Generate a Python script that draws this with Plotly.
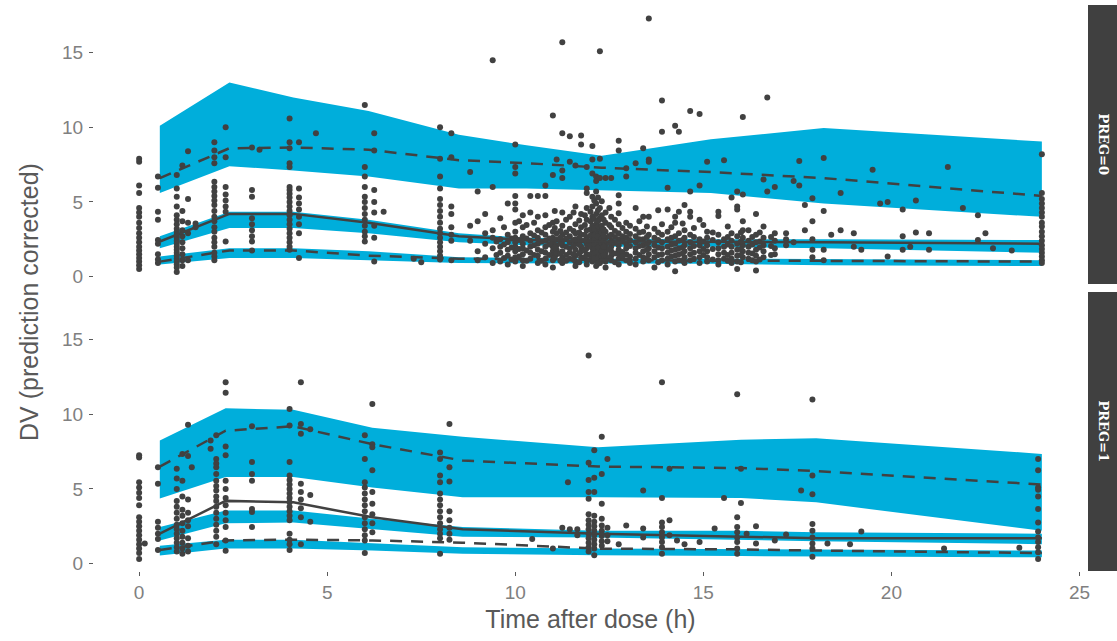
import plotly.graph_objects as go

# ---------------- PREG=0 : VPC summary ----------------
preg0_bin_time = [0.55, 2.4, 4.1, 6.1, 8.5, 10.3, 12.3, 15.2, 18.2, 24]
preg0_p95_ci_hi = [10.1, 13.0, 12.0, 11.1, 9.5, 8.8, 8.1, 9.2, 9.95, 9.05]
preg0_p95_ci_lo = [5.6, 7.4, 7.1, 6.7, 5.9, 5.9, 5.8, 5.6, 4.9, 4.0]
preg0_p50_ci_hi = [2.7, 4.35, 4.35, 3.8, 2.9, 2.6, 2.55, 2.5, 2.5, 2.45]
preg0_p50_ci_lo = [1.9, 3.25, 3.25, 2.9, 2.3, 2.1, 2.0, 2.0, 1.9, 1.6]
preg0_p05_ci_hi = [1.35, 1.9, 1.9, 1.7, 1.3, 1.25, 1.2, 1.2, 1.15, 1.1]
preg0_p05_ci_lo = [0.8, 1.25, 1.25, 1.1, 0.9, 0.9, 0.87, 0.85, 0.75, 0.7]
preg0_obs_p95 = [6.6, 8.6, 8.65, 8.5, 7.8, 7.6, 7.3, 7.0, 6.6, 5.4]
preg0_obs_p50 = [2.35, 4.2, 4.2, 3.6, 2.7, 2.45, 2.35, 2.35, 2.3, 2.2]
preg0_obs_p05 = [1.0, 1.75, 1.75, 1.4, 1.2, 1.15, 1.1, 1.05, 1.05, 1.0]

# ---------------- PREG=1 : VPC summary ----------------
preg1_bin_time = [0.55, 2.3, 4.1, 6.2, 8.6, 12.2, 16.0, 18.0, 24]
preg1_p95_ci_hi = [8.25, 10.4, 10.3, 9.1, 8.5, 7.8, 8.3, 8.4, 7.35]
preg1_p95_ci_lo = [4.36, 5.8, 5.8, 5.1, 4.45, 4.45, 4.4, 4.1, 2.2]
preg1_p50_ci_hi = [2.45, 3.55, 3.55, 3.0, 2.45, 2.2, 2.2, 2.1, 2.0]
preg1_p50_ci_lo = [1.55, 2.7, 2.75, 2.3, 1.8, 1.75, 1.6, 1.5, 1.3]
preg1_p05_ci_hi = [1.2, 1.6, 1.6, 1.35, 1.1, 1.0, 0.95, 0.9, 0.87]
preg1_p05_ci_lo = [0.54, 1.0, 1.0, 0.87, 0.65, 0.55, 0.5, 0.45, 0.42]
preg1_obs_p95 = [6.5, 8.9, 9.2, 8.0, 6.9, 6.5, 6.4, 6.2, 5.3]
preg1_obs_p50 = [2.0, 4.2, 4.1, 3.1, 2.3, 2.0, 1.8, 1.7, 1.7]
preg1_obs_p05 = [0.9, 1.55, 1.6, 1.55, 1.4, 1.0, 0.95, 0.87, 0.7]

# ---------------- observations (time, [pcDV ...]) ----------------
preg0_obs_early = [
    (0.0, [7.9, 7.7, 6.1, 5.6, 4.6, 4.3, 4.0, 3.6, 3.25, 2.9, 2.6, 2.3, 2.0, 1.75, 1.5, 1.25, 1.0, 0.75, 0.5]),
    (0.5, [6.7, 5.95, 4.35, 3.8, 2.45, 2.2, 1.5, 1.15, 0.9]),
    (1.0, [6.8, 5.9, 5.35, 4.7, 4.1, 3.8, 3.5, 3.2, 3.0, 2.8, 2.6, 2.4, 2.2, 2.0, 1.8, 1.6, 1.4, 1.2, 1.0, 0.8, 0.6, 0.3]),
    (1.15, [7.45, 4.4, 3.7, 3.1, 2.7, 2.3, 1.9, 1.5, 1.1, 0.7]),
    (1.3, [8.4, 5.2, 3.6, 2.9, 1.1]),
    (1.5, [3.55, 3.3]),
    (2.0, [9.0, 8.45, 8.0, 7.6, 6.35, 6.0, 5.7, 5.4, 5.1, 4.8, 4.4, 4.0, 3.7, 3.3, 3.0, 2.6, 2.3, 2.0, 1.6, 1.35, 1.1]),
    (2.3, [10.0, 8.0, 6.0, 5.5, 5.1, 4.7, 4.35, 2.35]),
    (3.0, [8.65, 5.8, 5.35, 3.9, 3.5, 3.1, 2.7, 2.35, 1.75]),
    (3.2, [8.5]),
    (4.0, [10.6, 9.0, 8.6, 7.6, 7.35, 6.0, 5.8, 5.55, 5.3, 5.0, 4.7, 4.4, 4.1, 3.8, 3.5, 3.2, 2.9, 2.6, 2.3, 2.0, 1.8]),
    (4.25, [9.0, 5.9, 5.3, 4.9, 4.5, 4.0, 3.5, 2.9, 1.25]),
    (4.7, [9.6]),
    (6.0, [11.5, 7.35, 6.7, 6.0, 5.35, 5.0, 4.6, 4.2, 3.8, 3.4, 3.0, 2.7, 2.35]),
    (6.25, [9.6, 8.45, 5.8, 5.0, 4.3, 3.4, 2.6, 1.0]),
    (6.5, [4.35]),
    (7.3, [1.2]),
    (7.5, [0.95]),
    (8.0, [10.0, 7.9, 6.7, 5.9, 5.2, 4.8, 4.4, 4.0, 3.6, 3.2, 2.9, 2.6, 2.3, 2.0, 1.7, 1.4, 1.15]),
    (8.3, [9.6, 8.0, 4.7, 4.2, 3.3, 2.8, 2.4, 1.1]),
    (8.8, [7.0, 3.4, 2.4]),
    (9.0, [5.7, 3.7, 1.7, 1.1]),
]
preg0_obs_mid = [
    (9.2, [4.2, 2.9, 2.2, 1.3]),
    (9.4, [14.5, 6.0, 3.1, 2.6, 1.9, 0.9]),
    (9.6, [3.9, 2.5, 2.0, 1.6, 1.0]),
    (9.8, [4.9, 2.8, 2.3, 1.8, 1.4, 0.8]),
    (10.0, [8.85, 7.35, 6.9, 5.4, 4.9, 4.5, 3.6, 3.0, 2.6, 2.3, 2.0, 1.7, 1.3, 1.0]),
    (10.2, [4.1, 3.3, 2.7, 2.2, 1.9, 1.5, 1.1, 0.7]),
    (10.4, [5.4, 4.3, 2.9, 2.4, 2.0, 1.6, 1.2]),
    (10.6, [5.4, 4.0, 3.1, 2.6, 2.2, 1.8, 1.4, 0.9]),
    (10.8, [6.1, 5.4, 4.1, 3.3, 2.8, 2.4, 2.0, 1.6, 1.2, 0.8]),
    (11.0, [10.8, 6.8, 3.6, 3.0, 2.6, 2.3, 2.0, 1.7, 1.4, 1.1, 0.6]),
    (11.1, [7.85, 3.7, 2.9, 2.5, 2.1, 1.8, 1.5]),
    (11.25, [15.7, 9.6, 7.1, 6.6, 4.3, 3.4, 2.8, 2.4, 2.1, 1.7, 1.3, 0.9]),
    (11.45, [9.4, 7.7, 4.0, 3.2, 2.7, 2.3, 1.9, 1.6, 1.2]),
    (11.6, [7.45, 4.7, 3.5, 2.9, 2.5, 2.2, 1.8, 1.4, 1.0, 0.7]),
    (11.75, [9.45, 8.85, 4.2, 3.3, 2.8, 2.4, 2.0, 1.7, 1.3]),
    (11.9, [7.35, 5.9, 5.6, 4.6, 3.8, 3.1, 2.6, 2.2, 1.9, 1.5, 1.1, 0.8]),
    (12.05, [8.75, 7.85, 6.9, 5.35, 4.7, 4.0, 3.4, 2.9, 2.5, 2.2, 1.9, 1.6, 1.3, 1.0]),
    (12.15, [6.7, 6.4, 5.7, 4.9, 4.2, 3.5, 3.0, 2.6, 2.3, 2.0, 1.7, 1.4, 1.1, 0.7]),
    (12.25, [15.1, 7.9, 6.6, 4.6, 3.9, 3.2, 2.8, 2.4, 2.1, 1.8, 1.5, 1.2, 0.9]),
    (12.4, [6.6, 4.3, 3.6, 3.0, 2.6, 2.2, 1.9, 1.6, 1.3, 1.0, 0.6]),
    (12.55, [6.6, 4.0, 3.3, 2.8, 2.4, 2.0, 1.7, 1.4, 1.1]),
    (12.75, [9.1, 8.45, 5.45, 4.9, 4.25, 3.5, 2.9, 2.5, 2.1, 1.8, 1.5, 1.2, 0.8]),
    (12.95, [7.25, 6.7, 3.6, 3.0, 2.6, 2.2, 1.9, 1.5, 1.1]),
    (13.2, [7.6, 4.6, 3.2, 2.7, 2.3, 1.9, 1.6, 1.2, 0.8]),
    (13.4, [8.6, 4.0, 3.0, 2.5, 2.1, 1.7, 1.3, 1.0]),
    (13.55, [17.3, 7.85, 7.7, 4.0, 2.8, 2.3, 1.9, 1.5, 1.1]),
    (13.7, [3.2, 2.6, 2.1, 1.7, 1.3, 0.6]),
    (13.9, [11.8, 9.7, 3.5, 2.8, 2.3, 1.9, 1.5, 1.1]),
    (14.05, [5.95, 4.5, 3.0, 2.5, 2.0, 1.6, 1.2, 0.8]),
    (14.25, [10.1, 4.0, 3.6, 2.7, 2.2, 1.8, 1.4, 1.0, 0.35]),
    (14.35, [9.7, 4.35, 2.9, 2.4, 1.9, 1.5, 1.1]),
    (14.5, [4.8, 3.1, 2.6, 2.1, 1.7, 1.3, 0.9]),
    (14.65, [11.1, 5.7, 4.35, 4.0, 2.8, 2.3, 1.9, 1.5, 1.1]),
    (14.9, [10.9, 6.1, 3.8, 2.5, 2.1, 1.7, 1.3, 0.9]),
    (15.1, [7.7, 3.0, 2.6, 2.1, 1.7, 1.3, 1.0]),
    (15.4, [4.35, 4.05, 2.8, 2.3, 1.9, 1.5, 1.1, 0.8]),
    (15.55, [7.8, 2.5, 2.0, 1.6, 1.2]),
    (15.75, [5.3, 2.9, 2.4, 2.0, 1.6, 1.2, 0.9]),
    (15.9, [5.7, 4.7, 4.5, 2.7, 2.2, 1.8, 1.4, 1.0, 0.5]),
    (16.05, [10.7, 5.5, 3.7, 3.1, 2.6, 2.1, 1.7, 1.3]),
    (16.2, [3.1, 2.4, 2.0, 1.6, 1.2]),
    (16.4, [4.2, 2.8, 2.3, 1.8, 1.4, 1.0, 0.4]),
    (16.6, [6.5, 3.35, 2.6, 2.1, 1.7, 1.3]),
    (16.7, [12.0, 5.7]),
    (16.9, [6.0, 2.9, 2.4, 1.9, 1.5]),
]
preg0_obs_dense = [
    (9.5, [2.35, 1.45]),
    (9.7, [3.3, 2.15, 1.25]),
    (9.9, [2.55, 1.95, 1.15]),
    (10.1, [3.7, 2.45, 1.85, 1.35]),
    (10.3, [3.45, 2.55, 1.75, 1.05]),
    (10.5, [3.6, 2.75, 2.1, 1.45]),
    (10.7, [2.95, 2.35, 1.7, 1.05]),
    (10.9, [3.45, 2.55, 2.15, 1.45]),
    (11.05, [4.4, 3.25, 2.45, 1.95, 1.25]),
    (11.2, [3.05, 2.6, 2.25, 1.55, 1.05]),
    (11.35, [3.8, 2.95, 2.55, 2.0, 1.45, 1.05]),
    (11.55, [4.3, 3.05, 2.45, 2.05, 1.5, 1.15]),
    (11.7, [3.75, 2.95, 2.6, 2.15, 1.55, 0.95]),
    (11.85, [4.1, 3.45, 2.8, 2.4, 1.75, 1.3]),
    (12.0, [4.35, 3.7, 3.15, 2.75, 2.35, 2.05, 1.45, 1.15]),
    (12.1, [5.1, 3.85, 3.2, 2.75, 2.45, 2.15, 1.85, 1.55, 1.2]),
    (12.2, [5.3, 4.45, 3.7, 3.35, 2.7, 2.25, 1.95, 1.65, 1.25, 0.85]),
    (12.3, [5.05, 4.1, 3.4, 2.95, 2.55, 2.25, 1.7, 1.35, 1.05]),
    (12.35, [3.8, 3.15, 2.75, 2.35, 2.0, 1.45]),
    (12.5, [4.6, 3.45, 2.7, 2.25, 1.85, 1.25]),
    (12.65, [3.8, 3.05, 2.65, 2.25, 1.55, 0.95]),
    (12.85, [3.25, 2.7, 2.35, 1.65, 1.35]),
    (13.05, [3.4, 2.85, 2.45, 2.05, 1.35, 0.9]),
    (13.3, [3.7, 2.95, 2.5, 2.05, 1.45]),
    (13.5, [3.35, 2.65, 2.2, 1.8, 1.2]),
    (13.8, [4.45, 2.95, 2.45, 1.95, 1.45, 0.95]),
    (14.15, [3.3, 2.6, 2.15, 1.75, 1.35]),
    (14.45, [3.55, 2.45, 1.95, 1.55, 1.05]),
    (14.75, [3.25, 2.65, 2.05, 1.6, 1.2]),
    (15.0, [3.45, 2.35, 1.85, 1.45]),
    (15.25, [2.95, 2.45, 1.85, 1.15]),
    (15.65, [3.35, 2.65, 2.15, 1.45, 1.05]),
    (16.0, [2.95, 2.35, 1.85, 1.45, 0.95]),
    (16.3, [2.65, 2.15, 1.55, 1.1]),
    (16.5, [2.95, 2.35, 1.95, 1.15]),
    (16.8, [2.65, 2.05, 1.45]),
]
preg0_obs_late = [
    (17.2, [2.9, 2.5, 2.1]),
    (17.4, [6.4, 2.3]),
    (17.55, [7.75, 6.1]),
    (17.7, [4.8, 3.1]),
    (17.9, [5.25, 3.7, 2.5, 1.8, 1.3]),
    (18.2, [7.95, 4.4, 1.8, 1.1]),
    (18.4, [2.8]),
    (18.65, [5.6, 3.1]),
    (19.0, [2.9, 2.0]),
    (19.2, [1.8]),
    (19.5, [7.15]),
    (19.7, [4.9]),
    (19.9, [5.0, 1.35]),
    (20.3, [4.5, 2.7, 1.8]),
    (20.5, [2.0]),
    (20.65, [5.1, 2.95]),
    (21.0, [2.9, 1.8]),
    (21.5, [7.35]),
    (21.9, [4.6]),
    (22.3, [4.1, 2.45]),
    (22.5, [2.9]),
    (22.7, [1.9]),
    (23.2, [1.75]),
    (24.0, [8.2, 5.6, 5.2, 4.9, 4.6, 4.3, 4.0, 3.6, 3.35, 3.0, 2.7, 2.4, 2.1, 1.85, 1.6, 1.35, 1.1, 0.9]),
]

preg1_obs_early = [
    (0.0, [7.25, 7.1, 5.45, 5.1, 4.75, 4.4, 3.9, 3.1, 2.8, 2.5, 2.2, 1.9, 1.6, 1.3, 1.0, 0.7, 0.3]),
    (0.15, [1.35]),
    (0.5, [6.45, 5.35, 2.8, 2.4, 2.0, 1.65, 0.9]),
    (1.0, [6.35, 5.7, 5.0, 4.2, 3.8, 3.4, 3.0, 2.6, 2.3, 2.0, 1.7, 1.4, 1.1, 0.8]),
    (1.15, [7.35, 5.55, 4.5, 3.6, 3.2, 2.7, 2.2, 1.8, 1.4, 1.0, 0.65]),
    (1.3, [9.3, 7.2, 4.3, 3.4, 2.9, 2.5, 1.7, 1.2, 0.8]),
    (1.4, [6.45]),
    (1.9, [8.25, 7.7]),
    (2.05, [8.6, 7.0, 6.7, 6.45, 6.0, 5.55, 5.2, 4.9, 4.5, 4.2, 3.8, 3.4, 3.0, 2.6, 2.2, 1.8, 1.3]),
    (2.3, [12.15, 11.45, 7.85, 7.25, 5.55, 5.0, 4.4, 3.9, 3.4, 2.9, 2.45, 1.55, 0.85]),
    (3.0, [9.2, 6.8, 6.0, 5.55, 3.65, 3.45, 2.45]),
    (4.0, [10.35, 9.25, 6.8, 5.9, 5.6, 5.3, 5.0, 4.7, 4.4, 4.1, 3.8, 3.5, 3.2, 2.9, 2.0, 1.6, 1.3, 0.9]),
    (4.3, [12.15, 9.35, 8.7, 5.35, 4.8, 4.3, 3.7, 3.1, 1.3]),
    (4.55, [9.0, 4.6, 2.8]),
    (6.0, [8.6, 7.0, 5.45, 5.1, 4.7, 4.3, 3.9, 3.5, 3.1, 2.7, 2.3, 1.9, 1.55, 0.7]),
    (6.2, [10.7, 8.0, 7.8, 6.25, 4.8, 4.0, 3.3, 2.7, 2.1]),
    (8.0, [7.45, 7.0, 5.9, 5.45, 4.7, 4.3, 3.9, 3.5, 3.1, 2.7, 2.3, 2.0, 1.7, 0.65]),
    (8.25, [9.35, 6.45, 5.5, 3.5, 2.9, 2.4, 2.0, 1.6]),
]
preg1_obs_mid = [
    (10.45, [1.65]),
    (11.0, [1.0]),
    (11.25, [2.4]),
    (11.4, [5.45]),
    (11.45, [2.3]),
    (11.65, [2.3, 1.9]),
    (11.95, [13.95, 6.75, 5.6, 4.8, 4.35, 3.3, 2.9, 2.6, 2.3, 2.0, 1.7, 1.4, 1.1, 0.8]),
    (12.1, [7.6, 5.75, 4.8, 3.2, 2.8, 2.5, 2.2, 1.9, 1.6, 1.3, 1.0, 0.55]),
    (12.3, [8.5, 6.0, 4.0, 3.0, 2.55, 2.2, 1.85, 1.5, 1.2]),
    (12.45, [7.0, 2.4, 1.9, 1.5]),
    (12.75, [1.3]),
    (12.95, [2.55]),
    (13.4, [4.9, 2.35, 1.75]),
    (13.9, [12.15, 4.4, 2.75, 2.45, 2.1, 1.75, 1.45, 1.1, 0.65]),
    (14.1, [6.35, 2.9, 1.9]),
    (14.3, [1.55]),
    (14.5, [1.3]),
    (14.9, [1.45]),
    (15.3, [2.35]),
    (15.55, [4.4]),
    (15.9, [11.35, 3.1, 2.45, 2.1, 1.75, 1.45, 1.0, 0.65]),
    (16.0, [6.35, 4.05]),
    (16.15, [2.0]),
    (16.4, [2.5, 1.35]),
    (16.9, [1.55]),
]
preg1_obs_late = [
    (17.2, [1.95]),
    (17.6, [4.9]),
    (17.9, [11.0, 5.9, 4.65, 2.65, 2.2, 1.75, 1.35, 1.0, 0.45]),
    (18.3, [1.35]),
    (18.9, [1.3]),
    (19.2, [2.15]),
    (21.4, [1.0]),
    (23.4, [1.05]),
    (23.9, [7.0, 6.25, 5.1, 4.95, 4.5, 3.65, 2.75, 2.15, 1.75, 1.45, 1.1, 0.75, 0.3]),
]

strip_labels = ["PREG=0", "PREG=1"]
x_tick_vals = [0, 5, 10, 15, 20, 25]
y_tick_vals = [0, 5, 10, 15]

BAND = "#00AEDB"
INK = "#414141"
DASH = "12px,9px"

fig = go.Figure()


def flatten(groups):
    xs, ys = [], []
    for grp in groups:
        for t, vals in grp:
            for v in vals:
                xs.append(t)
                ys.append(v)
    return xs, ys


def add_panel(row_axis, t, bands, obs_lines, obs_groups):
    xa, ya = row_axis
    for hi, lo in bands:
        fig.add_trace(go.Scatter(
            x=list(t) + list(t)[::-1], y=list(hi) + list(lo)[::-1],
            fill="toself", fillcolor=BAND, line=dict(width=0), mode="lines",
            hoverinfo="skip", showlegend=False, xaxis=xa, yaxis=ya))
    xs, ys = flatten(obs_groups)
    fig.add_trace(go.Scatter(
        x=xs, y=ys, mode="markers",
        marker=dict(size=6, color=INK, line=dict(width=0)),
        showlegend=False, xaxis=xa, yaxis=ya))
    for vals, dash in obs_lines:
        fig.add_trace(go.Scatter(
            x=t, y=vals, mode="lines",
            line=dict(color=INK, width=2.5, dash=dash),
            showlegend=False, xaxis=xa, yaxis=ya))


add_panel(("x", "y"), preg0_bin_time,
          [(preg0_p95_ci_hi, preg0_p95_ci_lo), (preg0_p50_ci_hi, preg0_p50_ci_lo),
           (preg0_p05_ci_hi, preg0_p05_ci_lo)],
          [(preg0_obs_p95, DASH), (preg0_obs_p50, "solid"), (preg0_obs_p05, DASH)],
          [preg0_obs_early, preg0_obs_mid, preg0_obs_dense, preg0_obs_late])
add_panel(("x2", "y2"), preg1_bin_time,
          [(preg1_p95_ci_hi, preg1_p95_ci_lo), (preg1_p50_ci_hi, preg1_p50_ci_lo),
           (preg1_p05_ci_hi, preg1_p05_ci_lo)],
          [(preg1_obs_p95, DASH), (preg1_obs_p50, "solid"), (preg1_obs_p05, DASH)],
          [preg1_obs_early, preg1_obs_mid, preg1_obs_late])

W, H = 1117, 641
ML, MR, MT, MB = 94, 30, 5, 70
plot_h = H - MT - MB
plot_w = W - ML - MR
top_dom = [(H - MB - 284) / plot_h, 1.0]
bot_dom = [0.0, 279 / plot_h]

tick_font = dict(family="Liberation Sans, Arial, sans-serif", size=19, color="#808080")
axis_base = dict(range=None, showgrid=False, zeroline=False, showline=False,
                 ticklen=4, tickwidth=1, tickcolor="#5a5a5a", tickfont=tick_font)

fig.update_layout(
    width=W, height=H,
    margin=dict(l=ML, r=MR, t=MT, b=MB),
    paper_bgcolor="white", plot_bgcolor="white",
    showlegend=False,
    xaxis=dict(domain=[0, 1], anchor="y", range=[-1.2, 25.2], showgrid=False, zeroline=False,
               showline=False, showticklabels=False, ticks="", tickvals=x_tick_vals),
    yaxis=dict(domain=top_dom, anchor="x", range=[-0.5, 18.2], showgrid=False, zeroline=False,
               showline=False, tickvals=y_tick_vals, ticks="outside", ticklen=4, tickwidth=1,
               tickcolor="#5a5a5a", tickfont=tick_font, ticklabelstandoff=2),
    xaxis2=dict(domain=[0, 1], anchor="y2", matches="x", range=[-1.2, 25.2], showgrid=False,
                zeroline=False, showline=False, tickvals=x_tick_vals, ticks="outside", ticklen=4,
                tickwidth=1, tickcolor="#5a5a5a", tickfont=tick_font,
                title=dict(text="Time after dose (h)", standoff=8,
                           font=dict(family="Liberation Sans, Arial, sans-serif", size=25, color="#595959"))),
    yaxis2=dict(domain=bot_dom, anchor="x2", range=[-0.5, 18.2], showgrid=False, zeroline=False,
                showline=False, tickvals=y_tick_vals, ticks="outside", ticklen=4, tickwidth=1,
                tickcolor="#5a5a5a", tickfont=tick_font, ticklabelstandoff=2),
)

# shared y-axis title
fig.add_annotation(text="DV (prediction corrected)", xref="paper", yref="paper",
                   x=-(ML - 29) / plot_w, y=(H - MB - 302) / plot_h,
                   xanchor="center", yanchor="middle",
                   textangle=-90, showarrow=False,
                   font=dict(family="Liberation Sans, Arial, sans-serif", size=25, color="#595959"))

# facet strips
sx0 = 1 + 1 / plot_w
sx1 = 1 + (MR + 2) / plot_w
for dom, label in zip([top_dom, bot_dom], strip_labels):
    fig.add_shape(type="rect", xref="paper", yref="paper", x0=sx0, x1=sx1, y0=dom[0], y1=dom[1],
                  fillcolor="#404040", line=dict(width=0), layer="below")
    fig.add_annotation(text="<b>%s</b>" % label, xref="paper", yref="paper",
                       x=1 + (MR / 2 + 1) / plot_w, y=(dom[0] + dom[1]) / 2,
                       textangle=90, showarrow=False, xanchor="center", yanchor="middle",
                       font=dict(family="DejaVu Serif, serif", size=13, color="white"))

fig.write_html("out.html")
